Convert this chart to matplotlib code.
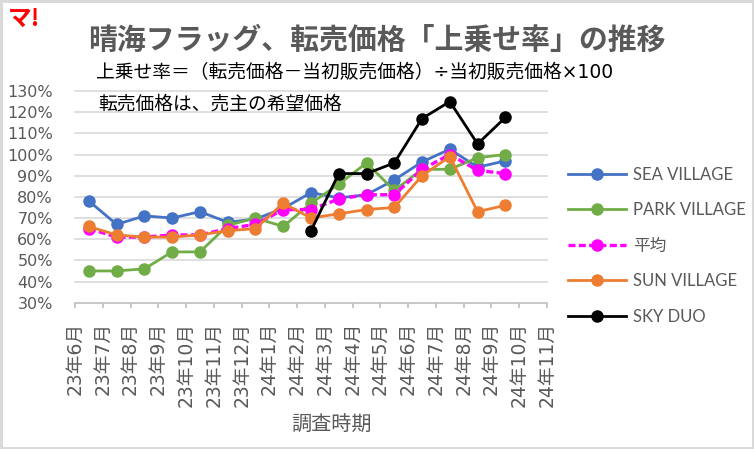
import numpy as np
import matplotlib
matplotlib.use("Agg")
import matplotlib.pyplot as plt
from matplotlib.patches import Rectangle

# data (percent)
months = ["23年6月", "23年7月", "23年8月", "23年9月", "23年10月", "23年11月", "23年12月",
          "24年1月", "24年2月", "24年3月", "24年4月", "24年5月", "24年6月", "24年7月",
          "24年8月", "24年9月", "24年10月", "24年11月"]
sea_village = [78, 67, 71, 70, 73, 68, 69.5, 74.5, 82, 79.5, 81, 88, 96.5, 102.5, 94, 97]
park_village = [45, 45, 46, 54, 54, 66.5, 70, 66, 77, 86, 96, 83, 93, 93, 98.5, 100]
average = [65, 61, 61, 62, 62, 65, 67, 74, 74, 79, 81, 81, 93, 100, 92.5, 91]
sun_village = [66, 62, 61, 61, 62, 64, 65, 77, 70, 72, 74, 75, 90, 99, 73, 76]
sky_duo = [np.nan] * 8 + [64, 91, 91, 96, 117, 125, 105, 117.5]
y_ticks = [30, 40, 50, 60, 70, 80, 90, 100, 110, 120, 130]

JP = ["DejaVu Sans", "Noto Sans CJK JP"]
GRAY = "#595959"

fig = plt.figure(figsize=(7.54, 4.49), dpi=100)
ax = fig.add_axes([75 / 754, 1 - 302.7 / 449, 472 / 754, 211.7 / 449])

series = [
    ("SEA VILLAGE", sea_village, "#4472C4", "-"),
    ("PARK VILLAGE", park_village, "#70AD47", "-"),
    ("平均", average, "#FF00FF", "--"),
    ("SUN VILLAGE", sun_village, "#ED7D31", "-"),
    ("SKY DUO", sky_duo, "#000000", "-"),
]
for i, (name, vals, color, ls) in enumerate(series):
    x = np.arange(len(vals)) + 0.5
    ax.plot(x, vals, ls, color=color, lw=2.0 if ls == "-" else 2.4,
            marker="o", markersize=8, markeredgecolor=color, markerfacecolor=color,
            label=name, zorder=3 + i, dashes=(2.1, 1.0) if ls == "--" else (None, None))

# axes styling
ax.set_xlim(0, len(months) - 1)
ax.set_ylim(30, 130)
for v in y_ticks[1:]:
    ax.axhline(v, color="#d9d9d9", lw=1.2, zorder=0, clip_on=False)
for side in ["left", "right", "top"]:
    ax.spines[side].set_visible(False)
ax.spines["bottom"].set_color("#bfbfbf")
ax.spines["bottom"].set_linewidth(1.2)

ax.set_yticks(y_ticks)
ax.set_yticklabels([f"{v}%" for v in y_ticks], fontsize=11.5, color=GRAY, family="DejaVu Sans")
ax.tick_params(axis="y", length=0, pad=16)

ax.set_xticks(np.arange(len(months)))
ax.set_xticklabels(months, rotation=90, fontsize=13.5, color=GRAY, family=JP)
ax.tick_params(axis="x", length=3.6, width=1.2, color="#bfbfbf", pad=10)

# texts
fig.text(377 / 754, 1 - 40 / 449, "晴海フラッグ、転売価格「上乗せ率」の推移", ha="center", va="center",
         fontsize=20.8, fontweight="bold", color=GRAY, family="Noto Sans CJK JP")
fig.text(96 / 754, 1 - 72.5 / 449, "上乗せ率＝（転売価格－当初販売価格）÷当初販売価格×100",
         ha="left", va="center", fontsize=13.5, color="black", family=JP)
fig.text(98 / 754, 1 - 104 / 449, "転売価格は、売主の希望価格",
         ha="left", va="center", fontsize=13.5, color="black", family=JP)
fig.text(332 / 754, 1 - 425 / 449, "調査時期", ha="center", va="center",
         fontsize=14.5, color=GRAY, family="Noto Sans CJK JP")
fig.text(8 / 754, 1 - 19 / 449, "マ!", ha="left", va="center", fontsize=17,
         fontweight="bold", color="#ff0000", family="Noto Sans CJK JP")

leg = fig.legend(loc="center left", bbox_to_anchor=(568 / 754, 1 - 245.5 / 449),
                 frameon=False, borderpad=0, borderaxespad=0, handlelength=3.5,
                 handletextpad=0.4, labelspacing=1.17,
                 prop={"family": ["Lato", "Noto Sans CJK JP"], "size": 12})
for t in leg.get_texts():
    t.set_color(GRAY)

# chart border
fig.add_artist(Rectangle((0, 0), 1, 1, transform=fig.transFigure, fill=False,
                         edgecolor="#d9d9d9", lw=3.5))

fig.savefig("out.png", dpi=100)
